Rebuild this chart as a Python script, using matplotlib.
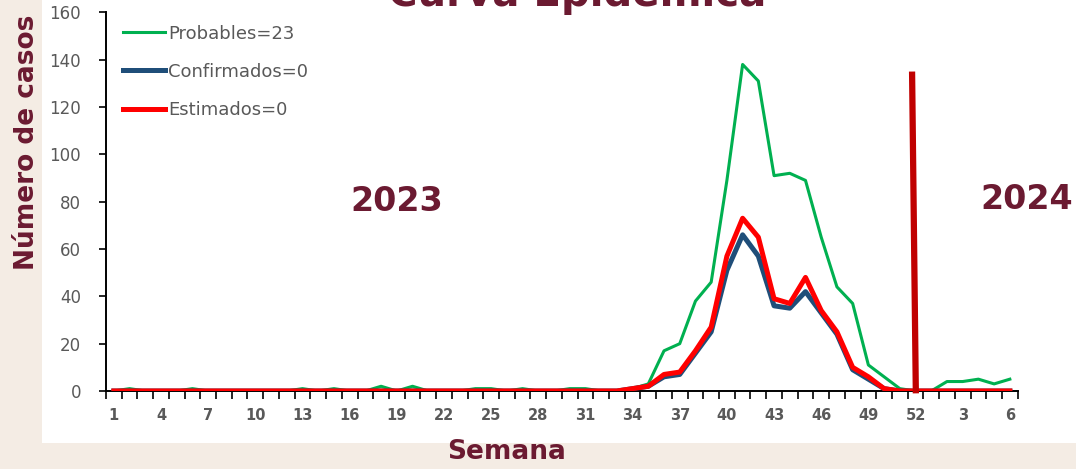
import matplotlib
matplotlib.use('Agg')
import matplotlib.pyplot as plt
from matplotlib.patches import Rectangle
from matplotlib.ticker import FixedLocator, MultipleLocator

# ── Data: epidemiological weeks 2023 (1-52) then 2024 (1-6) ──
week_labels = list(range(1, 53)) + list(range(1, 7))

probables = [0, 1, 0, 0, 0, 1, 0, 0, 0, 0, 0, 0, 1, 0, 1, 0, 0, 2, 0, 2,
             0, 0, 0, 1, 1, 0, 1, 0, 0, 1, 1, 0, 0, 1, 3, 17, 20, 38, 46, 89,
             138, 131, 91, 92, 89, 65, 44, 37, 11, 6, 1, 0,
             0, 4, 4, 5, 3, 5]
confirmados = [0] * 33 + [1, 2, 6, 7, 16, 25, 51, 66, 57, 36, 35, 42, 33, 24,
                         9, 5, 1, 0, 0] + [0] * 6
estimados = [0] * 33 + [1, 2, 7, 8, 17, 27, 57, 73, 65, 39, 37, 48, 34, 25,
                       10, 6, 1, 0, 0] + [0] * 6

legend_labels = ['Probables=23', 'Confirmados=0', 'Estimados=0']

# year divider (red bar at week 52)
divider_week = 52
divider_top = 135

GUINDA = '#6B1A31'
GRAY = '#595959'

x = list(range(1, len(week_labels) + 1))

fig = plt.figure(figsize=(10.76, 4.69), dpi=100, facecolor='#F4ECE4')
# white panel behind the chart
fig.patches.append(Rectangle((42 / 1076, 26 / 469), 1, 1, transform=fig.transFigure,
                             facecolor='white', edgecolor='none', zorder=-10))

ax = fig.add_axes([106 / 1076, 78 / 469, 911.7 / 1076, 378.6 / 469])
ax.set_facecolor('none')
ax.set_zorder(2)

ax.plot(x, probables, color='#00B050', linewidth=2.2, label=legend_labels[0], zorder=3)
ax.plot(x, confirmados, color='#1F4E79', linewidth=3.6, label=legend_labels[1], zorder=4)
ax.plot(x, estimados, color='#FF0000', linewidth=3.6, label=legend_labels[2], zorder=5)

# divider between 2023 and 2024 (slightly leaning, as drawn on the slide)
ax.plot([divider_week + 0.02, divider_week - 0.22], [-1, divider_top],
        color='#C00000', linewidth=4.5, solid_capstyle='butt', zorder=6, clip_on=False)

ax.set_xlim(0.5, len(x) + 0.5)
ax.set_ylim(0, 160)

# category style axis: labels every 3 weeks, ticks between categories
tick_pos = x[::3]
ax.xaxis.set_major_locator(FixedLocator(tick_pos))
ax.set_xticklabels([str(week_labels[i - 1]) for i in tick_pos])
ax.xaxis.set_minor_locator(FixedLocator([i + 0.5 for i in range(len(x) + 1)]))
ax.tick_params(axis='x', which='major', length=0, pad=12, labelsize=10.5, labelcolor=GRAY)
ax.tick_params(axis='x', which='minor', length=6, width=1.2, direction='out', color='black')
for lbl in ax.get_xticklabels():
    lbl.set_fontweight('bold')

ax.yaxis.set_major_locator(MultipleLocator(20))
ax.tick_params(axis='y', length=5, width=1.2, direction='out', pad=13,
               labelsize=12, labelcolor=GRAY)

for side in ['top', 'right']:
    ax.spines[side].set_visible(False)
for side in ['left', 'bottom']:
    ax.spines[side].set_linewidth(1.4)
    ax.spines[side].set_color('black')

leg = ax.legend(loc='upper left', bbox_to_anchor=(17 / 911.7, 0.968), frameon=False,
                borderpad=0, borderaxespad=0, handlelength=2.3, handletextpad=0.2,
                labelspacing=1.12, fontsize=13)
for t in leg.get_texts():
    t.set_color(GRAY)

# year labels
ax.text(19.0, 80, '2023', color=GUINDA, fontsize=24, fontweight='bold',
        ha='center', va='center')
ax.text(59.1, 81, '2024', color=GUINDA, fontsize=24, fontweight='bold',
        ha='center', va='center', clip_on=False)

fig.text(27 / 1076, 1 - 142 / 469, 'Número de casos', rotation=90, color=GUINDA,
         fontsize=19, fontweight='bold', ha='center', va='center')
fig.text(507 / 1076, 1 - 452 / 469, 'Semana', color=GUINDA, fontsize=19,
         fontweight='bold', ha='center', va='center')

# title, mostly cut by the top edge as in the source slide
fig.text(577 / 1076, 1 - 6 / 469, 'Curva Epidémica', color=GUINDA, fontsize=29,
         fontweight='bold', ha='center', va='baseline')

fig.savefig('out.png', dpi=100, facecolor=fig.get_facecolor())
